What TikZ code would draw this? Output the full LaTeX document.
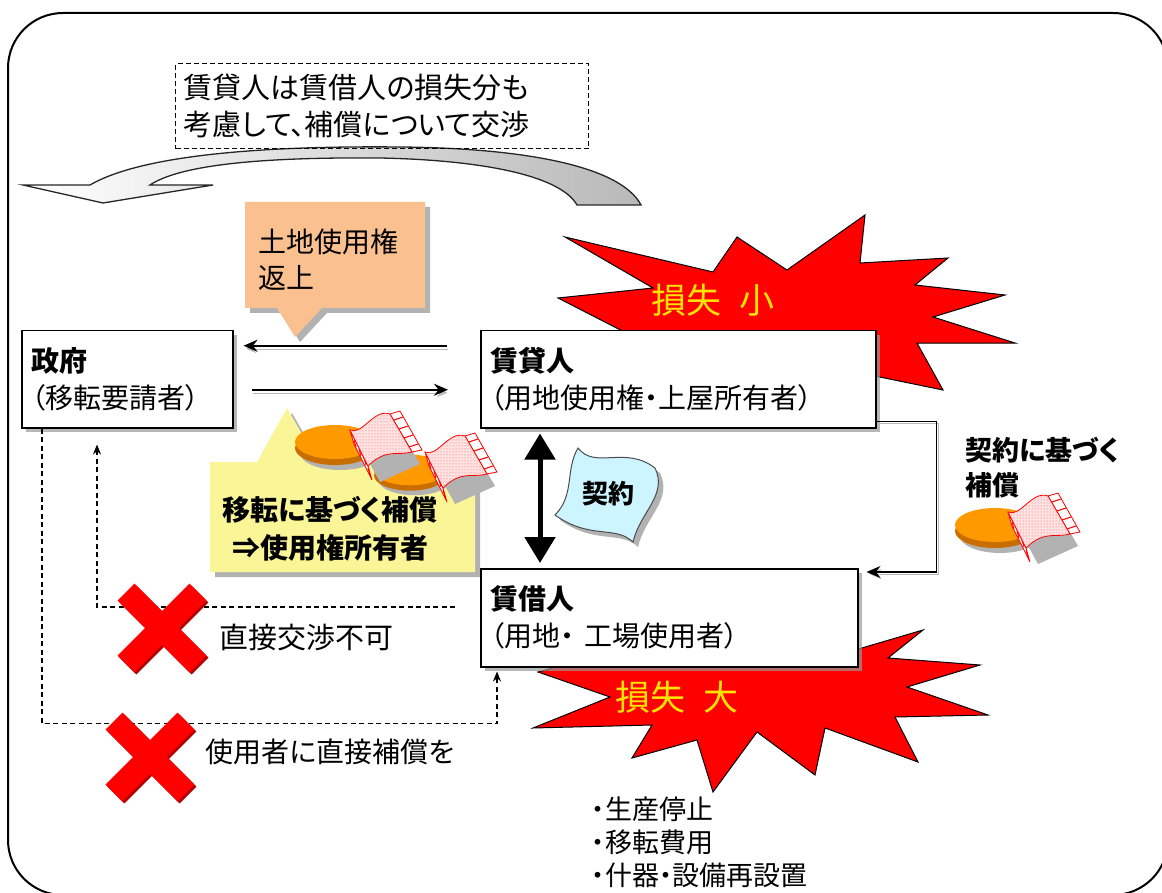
\documentclass[tikz,border=0pt]{standalone}
\usepackage{fontspec}
\setmainfont{Noto Sans CJK JP}[RawFeature=+palt]
\usetikzlibrary{arrows.meta,shadows,patterns}

\definecolor{peach}{RGB}{250,192,144}
\definecolor{lightyellow}{RGB}{250,246,152}
\definecolor{coinorange}{RGB}{255,153,0}
\definecolor{coinrim}{RGB}{200,110,0}
\definecolor{contractblue}{RGB}{205,245,255}
\definecolor{losstext}{RGB}{255,228,0}

\newcommand{\jsize}[2]{\fontsize{#1}{#2}\selectfont}

\tikzset{
  box/.style={draw, line width=1.5pt, fill=white, anchor=north west, align=left,
    inner xsep=10pt, font=\jsize{28}{37},
    drop shadow={shadow xshift=4pt, shadow yshift=-4pt, fill=gray!80, opacity=0.7}},
  notebox/.style={draw, line width=1.2pt, dash pattern=on 5pt off 3pt, anchor=north west,
    align=left, inner xsep=8pt, font=\jsize{29}{37}},
  burst/.style={fill=red, draw=black, line width=1pt},
  callout/.style={drop shadow={shadow xshift=5pt, shadow yshift=-5pt, fill=gray!75, opacity=0.8}},
  flow/.style={line width=1.8pt, -{Stealth[length=14pt,width=12pt]},
    preaction={draw=gray!55, transform canvas={shift={(1pt,-3pt)}}}},
  pay/.style={line width=1.2pt, -{Stealth[length=14pt,width=12pt]},
    preaction={draw=gray!55, transform canvas={shift={(2pt,-2pt)}}}},
  both/.style={line width=5pt, {Triangle[length=26pt,width=30pt]}-{Triangle[length=26pt,width=30pt]},
    shorten <=5pt, shorten >=5pt},
  dashline/.style={line width=1.4pt, dash pattern=on 5pt off 3.5pt,
    -{Stealth[length=10pt,width=8pt]}},
  coin/.pic={
    \fill[gray!60] (5,11) ellipse (40 and 17);
    \fill[coinrim] (0,6) ellipse (40 and 17);
    \fill[coinorange] (0,0) ellipse (40 and 17);
  },
  bills/.pic={
    % Schatten unter dem Stapel
    \fill[gray!60] (-24,2) -- (16,-14) -- (38,24) -- (-2,42) -- cycle;
    % Kanten des Stapels
    \filldraw[draw=red, fill=white, line width=0.8pt] (8,-26) -- (18,-29) -- (40,10) -- (30,12) -- cycle;
    \draw[red, line width=1pt] (12,-20) -- (21,-23) (17,-11) -- (26,-14) (22,-2) -- (31,-5) (27,7) -- (36,4);
    \filldraw[draw=red, fill=white, line width=0.8pt] (-32,-10) -- (-14,26) -- (-10,40) -- (-28,4) -- cycle;
    \draw[red, line width=1pt] (-28,0) -- (-26,7) (-23,9) -- (-21,16) (-18,18) -- (-16,25) (-14,28) -- (-12,35);
    % oberster Schein
    \filldraw[draw=red, fill=pink!45, line width=0.8pt, postaction={pattern=dots, pattern color=red!65}]
      (-32,-10) .. controls (-20,-4) and (-8,-32) .. (8,-26) -- (30,12)
      .. controls (16,16) and (4,8) .. (-14,26) -- cycle;
  },
  xmark/.pic={
    \draw[line width=24pt, red!70!black] (-34,-34) -- (38,38) (-34,38) -- (38,-34);
    \draw[line width=24pt, red] (-36,-36) -- (36,36) (-36,36) -- (36,-36);
  }
}

\begin{document}
\begin{tikzpicture}[x=1pt, y=-1pt, >=stealth]
  \useasboundingbox (0,0) rectangle (1162,893);
  \clip (0,0) rectangle (1162,893);

  % Rahmen
  \draw[line width=2pt, rounded corners=55pt] (8,13) rectangle (1168,895);

  % gebogener Pfeil oben
  \shade[left color=white, right color=gray!55, draw=black!85, line width=1.3pt]
    (23,185) -- (90,185) .. controls (150,150) and (300,146) .. (400,147)
    .. controls (520,148) and (620,165) .. (641,205) -- (577,205)
    .. controls (560,175) and (480,160) .. (380,158)
    .. controls (260,157) and (180,165) .. (150,185)
    -- (213,185) -- (103,203) -- cycle;
  \node[notebox, minimum width=413pt, minimum height=85pt, text width=397pt] (nego) at (175,63)
    {賃貸人は賃借人の損失分も\\考慮して、補償について交渉};

  % Sterne
  \filldraw[burst] (565,237) -- (713,272) -- (737,237) -- (787,270) -- (865,215) -- (860,263)
    -- (948,258) -- (915,285) -- (1005,295) -- (933,317) -- (1015,343) -- (917,343)
    -- (943,390) -- (870,375) -- (780,415) -- (700,380) -- (640,340) -- (558,298)
    -- (653,288) -- cycle;
  \filldraw[burst] (923,630) -- (888,658) -- (980,665) -- (907,687) -- (988,715) -- (895,717)
    -- (918,762) -- (825,728) -- (815,775) -- (757,732) -- (713,792) -- (697,740)
    -- (632,758) -- (652,725) -- (533,728) -- (610,697) -- (538,672) -- (600,655)
    -- (680,610) -- (760,650) -- (840,600) -- (855,650) -- cycle;

  % Sprechblasen
  \fill[peach, callout] (245,202) -- (425,202) -- (425,308) -- (322,308) -- (295,337)
    -- (277,308) -- (245,308) -- cycle;
  \node[anchor=west, align=left, font=\jsize{28}{36}] (henjo) at (255,260) {土地使用権\\返上};
  \fill[lightyellow, callout] (210,462) -- (257,462) -- (287,408) -- (318,462) -- (475,462)
    -- (475,572) -- (210,572) -- cycle;
  \node[align=center, font=\bfseries\jsize{28}{38}] (hosho) at (330,529)
    {移転に基づく補償\\⇒使用権所有者};

  % Beteiligte
  \node[box, minimum width=211pt, minimum height=97pt, text width=191pt] (gov) at (21,330)
    {\textbf{政府}\\（移転要請者）};
  \node[box, minimum width=395pt, minimum height=97pt, text width=375pt] (lessor) at (480,330)
    {\textbf{賃貸人}\\（用地使用権・上屋所有者）};
  \node[box, minimum width=377pt, minimum height=98pt, text width=357pt] (lessee) at (480,568)
    {\textbf{賃借人}\\（用地・ 工場使用者）};

  % Pfeile
  \draw[flow, shorten <=33pt, shorten >=10pt] ([yshift=33.5pt]lessor.west) -- ([yshift=33.5pt]gov.east);
  \draw[flow, shorten <=18pt, shorten >=32pt] ([yshift=-10.5pt]gov.east) -- ([yshift=-10.5pt]lessor.west);
  \draw[both] ([xshift=60pt]lessor.south west) -- ([xshift=60pt]lessee.north west);
  \draw[pay] ([yshift=7pt]lessor.south east) -- ++(60,0) |- ([xshift=8pt,yshift=-4pt]lessee.north east);
  \draw[dashline, shorten >=4pt] ([xshift=21pt]gov.south west) |- ([xshift=17pt,yshift=-56pt]lessee.south west)
    -- ([xshift=17pt]lessee.south west);
  \coordinate (nego-end) at (455,607);
  \draw[dashline] (nego-end) -| ([xshift=76pt,yshift=-16pt]gov.south west);

  % Vertrag
  \filldraw[fill=contractblue, draw=gray!60!black, line width=1pt, callout]
    (578,448) .. controls (595,470) and (625,445) .. (655,468)
    .. controls (668,495) and (640,512) .. (633,542)
    .. controls (615,525) and (590,540) .. (555,515)
    .. controls (575,495) and (565,470) .. (578,448) -- cycle;
  \node[font=\bfseries\jsize{26}{30}] (contract) at (608,494) {契約};

  % Geld
  \pic at (335,442) {coin};
  \pic[scale=0.9] at (410,470) {coin};
  \pic at (382,440) {bills};
  \pic at (457,462) {bills};
  \pic at (995,525) {coin};
  \pic at (1040,522) {bills};
  \node[anchor=west, align=left, font=\bfseries\jsize{27}{35}] (payhosho) at (962,468)
    {契約に基づく\\補償};

  % Kreuze
  \pic at (162,628) {xmark};
  \pic at (150,757) {xmark};
  \node[anchor=west, font=\jsize{29}{35}] (nodirect) at (216,637) {直接交渉不可};
  \node[anchor=west, font=\jsize{28}{35}] (nopay) at (202,752) {使用者に直接補償を};

  % Schaden
  \node[text=losstext, font=\jsize{35}{40}] (losssmall) at (713,300) {損失\enspace 小};
  \node[text=losstext, font=\jsize{35}{40}] (lossbig) at (677,697) {損失\enspace 大};
  \node[anchor=north west, align=left, font=\jsize{27}{33}] (costs) at (588,793)
    {・生産停止\\・移転費用\\・什器・設備再設置};
\end{tikzpicture}
\end{document}
